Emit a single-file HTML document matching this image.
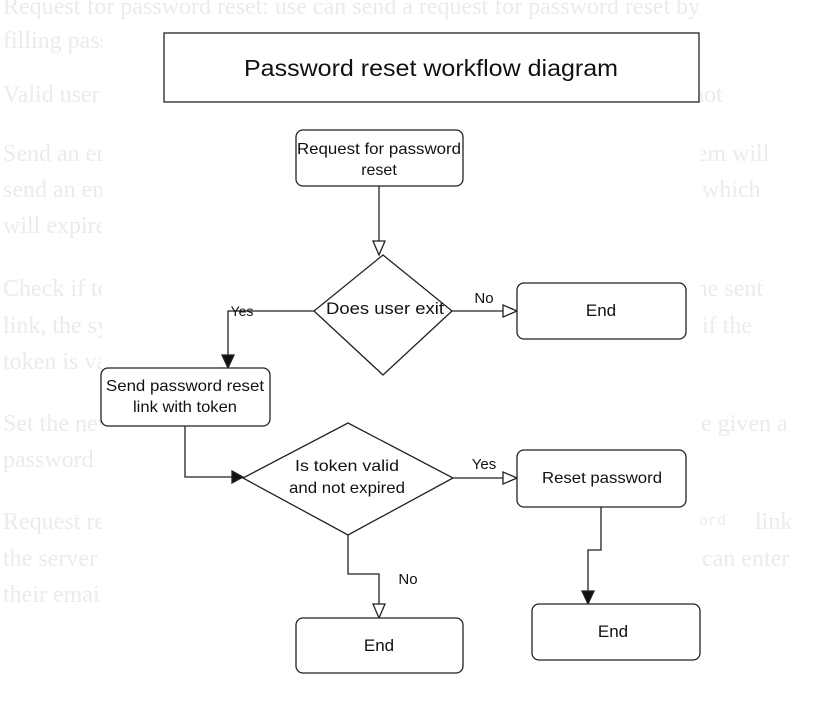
<!DOCTYPE html>
<html><head><meta charset="utf-8"><style>
html,body{margin:0;padding:0;background:#fff;}
body{width:827px;height:725px;position:relative;overflow:hidden;}
.bg{position:absolute;font-family:"Liberation Serif",serif;font-size:24px;color:#ebebeb;white-space:nowrap;line-height:1;}
svg{position:absolute;left:0;top:0;}
</style></head><body>
<div class="bg" style="left:3px;top:-5px">Request for password reset: use can send a request for password reset by</div>
<div class="bg" style="left:3px;top:29px">filling password reset form</div>
<div class="bg" style="left:3px;top:83px">Valid user: system will check</div>
<div class="bg" style="left:3px;top:142px">Send an email</div>
<div class="bg" style="left:3px;top:178px">send an email</div>
<div class="bg" style="left:3px;top:214px">will expire</div>
<div class="bg" style="left:3px;top:277px">Check if token</div>
<div class="bg" style="left:3px;top:314px">link, the system</div>
<div class="bg" style="left:3px;top:350px">token is valid</div>
<div class="bg" style="left:3px;top:412px">Set the new</div>
<div class="bg" style="left:3px;top:448px">password form</div>
<div class="bg" style="left:3px;top:510px">Request reset</div>
<div class="bg" style="left:3px;top:547px">the server will</div>
<div class="bg" style="left:3px;top:583px">their email</div>
<div class="bg" style="left:692px;top:83px">not</div>
<div class="bg" style="left:690px;top:142px">tem will</div>
<div class="bg" style="left:690px;top:178px">, which</div>
<div class="bg" style="left:689px;top:277px">the sent</div>
<div class="bg" style="left:690px;top:314px">, if the</div>
<div class="bg" style="left:689px;top:412px">be given a</div>
<div class="bg" style="left:690px;top:514px;font-family:'Liberation Mono',monospace;font-size:15px">word</div>
<div class="bg" style="left:755px;top:510px">link</div>
<div class="bg" style="left:690px;top:547px">, can enter</div>
<svg width="827" height="725" viewBox="0 0 827 725" font-family="Liberation Sans, sans-serif" fill="none" stroke="#222" stroke-width="1.3">
<rect x="102" y="24" width="598" height="670" fill="#fff" stroke="none"/>
<rect x="164" y="33" width="535" height="69" fill="#fff"/>
<text x="431" y="76" font-size="23" text-anchor="middle" fill="#111" stroke="none" textLength="374" lengthAdjust="spacingAndGlyphs">Password reset workflow diagram</text>

<rect x="296" y="130" width="167" height="56" rx="7" fill="#fff"/>
<text x="379" y="154" font-size="16" text-anchor="middle" fill="#111" stroke="none" textLength="164" lengthAdjust="spacingAndGlyphs">Request for password</text>
<text x="379" y="175" font-size="16" text-anchor="middle" fill="#111" stroke="none">reset</text>
<line x1="379" y1="186" x2="379" y2="241"/>
<polygon points="373,241 385,241 379,255" fill="#fff"/>

<polygon points="383,255 452,311 383,375 314,311" fill="#fff"/>
<text x="385" y="314" font-size="17" text-anchor="middle" fill="#111" stroke="none" textLength="118" lengthAdjust="spacingAndGlyphs">Does user exit</text>
<polyline points="314,311 228,311 228,360"/>
<polygon points="222,355 234,355 228,368" fill="#111"/>
<text x="242" y="316" font-size="14" text-anchor="middle" fill="#111" stroke="none">Yes</text>
<line x1="452" y1="311" x2="503" y2="311"/>
<polygon points="503,305 503,317 517,311" fill="#fff"/>
<text x="484" y="303" font-size="15" text-anchor="middle" fill="#111" stroke="none">No</text>

<rect x="517" y="283" width="169" height="56" rx="7" fill="#fff"/>
<text x="601" y="316" font-size="17" text-anchor="middle" fill="#111" stroke="none">End</text>

<rect x="101" y="368" width="169" height="58" rx="7" fill="#fff"/>
<text x="185" y="391" font-size="16" text-anchor="middle" fill="#111" stroke="none" textLength="158" lengthAdjust="spacingAndGlyphs">Send password reset</text>
<text x="185" y="412" font-size="16" text-anchor="middle" fill="#111" stroke="none" textLength="104" lengthAdjust="spacingAndGlyphs">link with token</text>
<polyline points="185,426 185,477 234,477"/>
<polygon points="232,471 232,483 243,477" fill="#111"/>

<polygon points="348,423 453,478 348,535 243,478" fill="#fff"/>
<text x="347" y="471" font-size="16" text-anchor="middle" fill="#111" stroke="none" textLength="104" lengthAdjust="spacingAndGlyphs">Is token  valid</text>
<text x="347" y="493" font-size="16" text-anchor="middle" fill="#111" stroke="none" textLength="116" lengthAdjust="spacingAndGlyphs">and not expired</text>
<line x1="453" y1="478" x2="503" y2="478"/>
<polygon points="503,472 503,484 517,478" fill="#fff"/>
<text x="484" y="469" font-size="15" text-anchor="middle" fill="#111" stroke="none">Yes</text>

<rect x="517" y="450" width="169" height="57" rx="7" fill="#fff"/>
<text x="602" y="483" font-size="16" text-anchor="middle" fill="#111" stroke="none" textLength="120" lengthAdjust="spacingAndGlyphs">Reset password</text>
<polyline points="601,507 601,550 588,550 588,596"/>
<polygon points="582,591 594,591 588,604" fill="#111"/>
<rect x="532" y="604" width="168" height="56" rx="7" fill="#fff"/>
<text x="613" y="637" font-size="17" text-anchor="middle" fill="#111" stroke="none">End</text>

<polyline points="348,535 348,574 379,574 379,604"/>
<polygon points="373,604 385,604 379,618" fill="#fff"/>
<text x="408" y="584" font-size="15" text-anchor="middle" fill="#111" stroke="none">No</text>
<rect x="296" y="618" width="167" height="55" rx="7" fill="#fff"/>
<text x="379" y="651" font-size="17" text-anchor="middle" fill="#111" stroke="none">End</text>
</svg>
</body></html>
